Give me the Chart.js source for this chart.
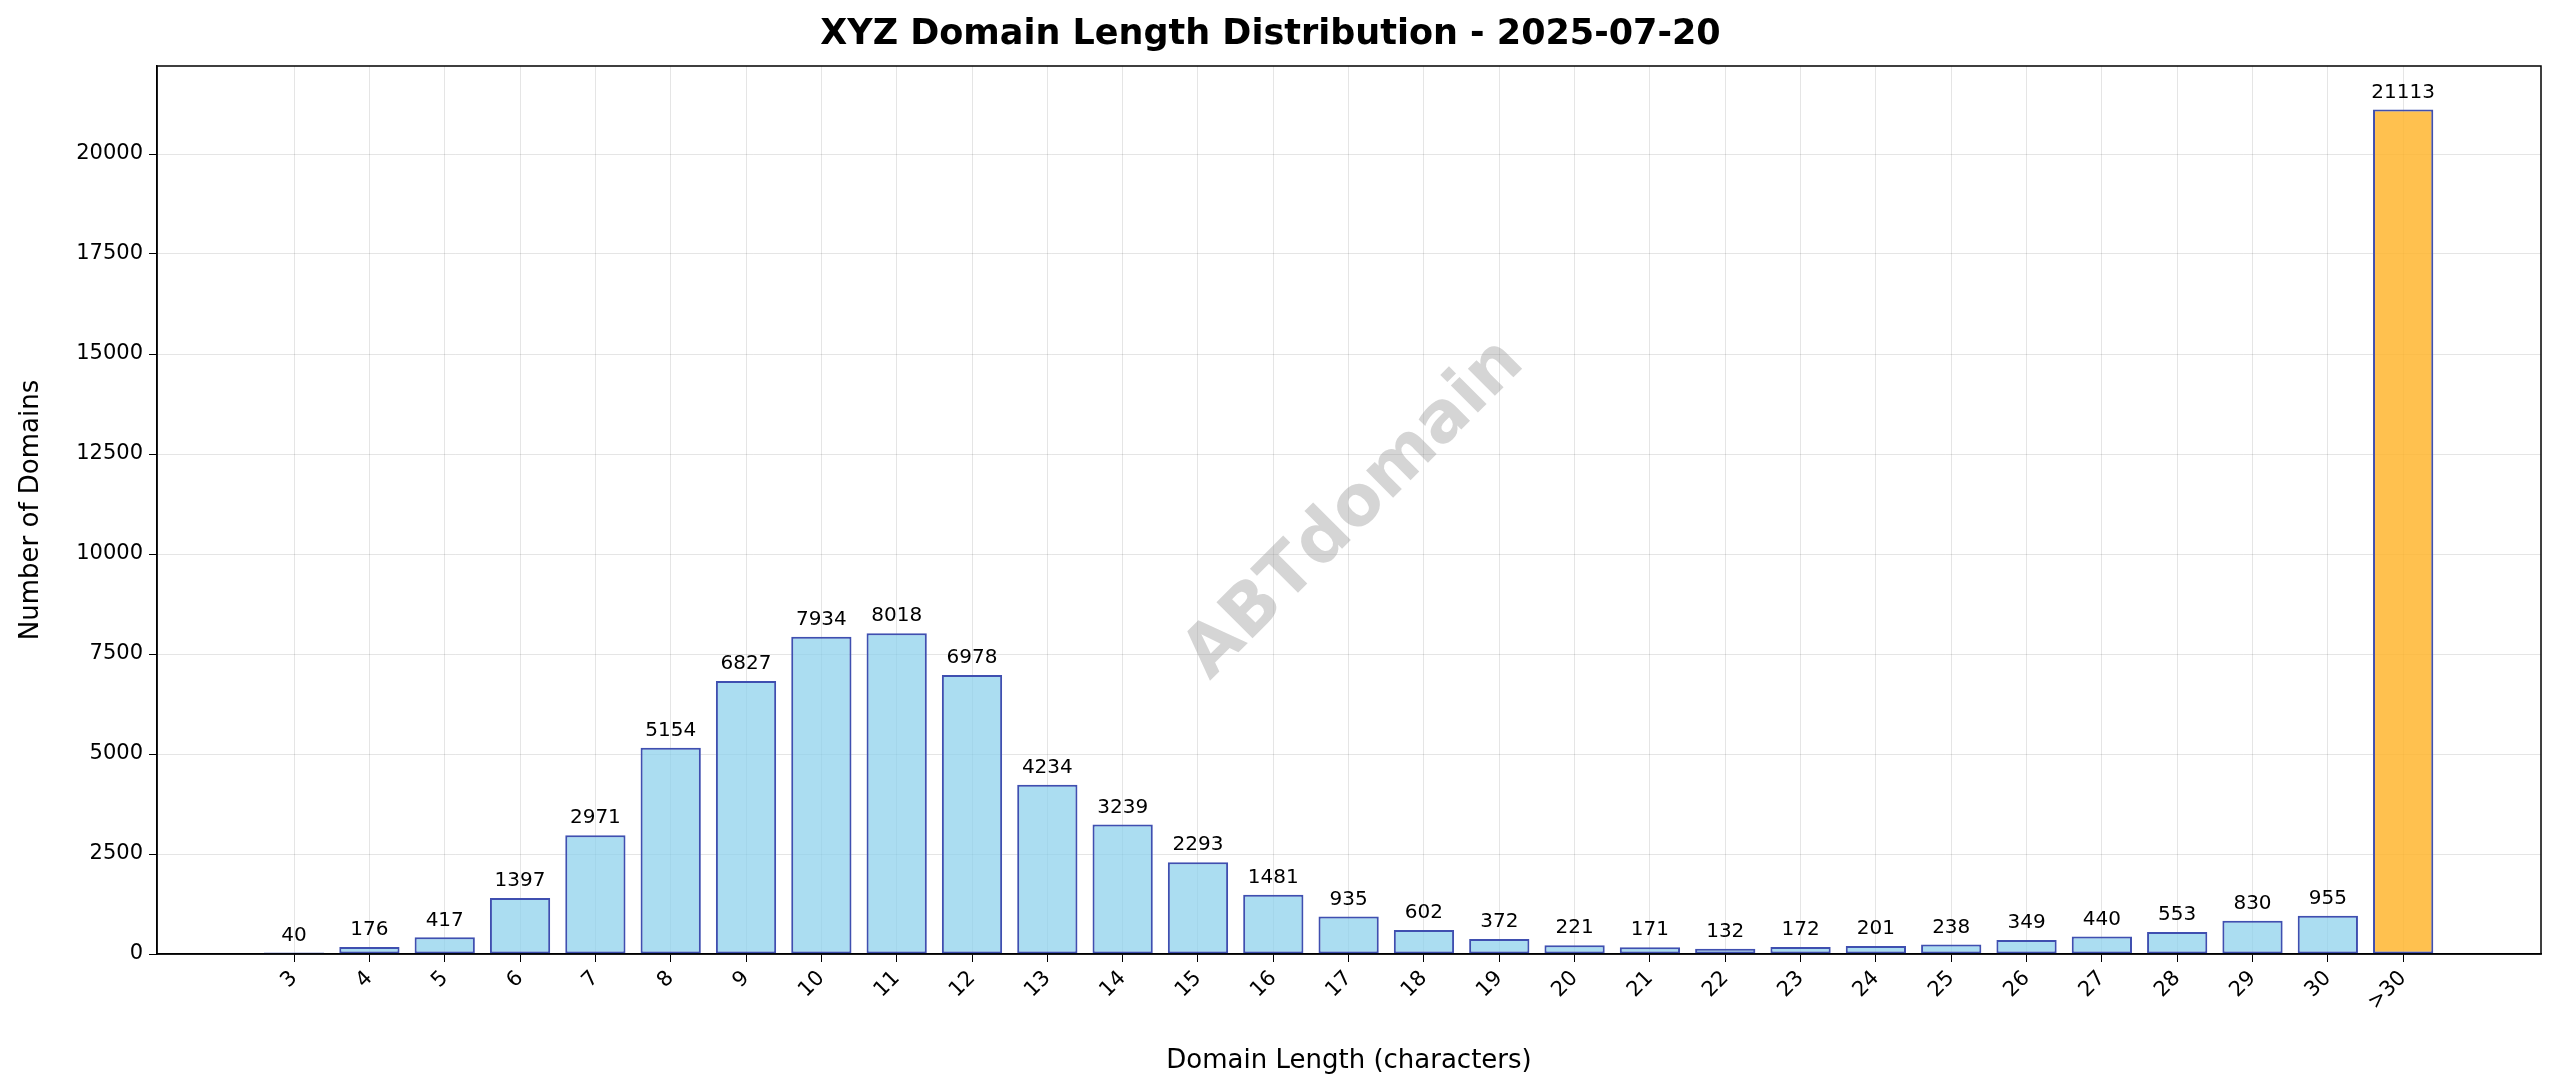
<!DOCTYPE html>
<html>
<head>
<meta charset="utf-8">
<script src="https://cdn.jsdelivr.net/npm/chart.js@4.4.0/dist/chart.umd.min.js"></script>
<style>
  html, body { margin: 0; padding: 0; background: #fff; }
  #wrap { width: 2560px; height: 1087px; }
</style>
</head>
<body>
<div id="wrap"><canvas id="chart"></canvas></div>
<script>
// Domain lengths (31 stands for ">30")
const lengths = [3,4,5,6,7,8,9,10,11,12,13,14,15,16,17,18,19,20,21,22,23,24,25,26,27,28,29,30,31];
const counts = [40,176,417,1397,2971,5154,6827,7934,8018,6978,4234,3239,2293,1481,935,602,372,221,171,132,172,201,238,349,440,553,830,955,21113];
const yTicks = [0,2500,5000,7500,10000,12500,15000,17500,20000];

const fillColors = lengths.map(l => l === 31 ? 'rgba(255,179,40,0.82)' : 'rgba(135,206,235,0.7)');

// Value labels on top of the bars
const valueLabels = {
  id: 'valueLabels',
  afterDatasetsDraw(chart) {
    const ctx = chart.ctx;
    const meta = chart.getDatasetMeta(0);
    ctx.save();
    ctx.fillStyle = '#000';
    ctx.font = '20px "DejaVu Sans"';
    ctx.textAlign = 'center';
    ctx.textBaseline = 'bottom';
    meta.data.forEach((bar, i) => {
      ctx.fillText(String(counts[i]), bar.x, bar.y - 7);
    });
    ctx.restore();
  }
};

// Watermark and full frame
const watermark = {
  id: 'watermark',
  beforeDatasetsDraw(chart) {
    const ctx = chart.ctx;
    ctx.save();
    ctx.translate(1355, 510);
    ctx.rotate(-Math.PI / 4);
    ctx.fillStyle = 'rgba(150,150,150,0.4)';
    ctx.font = 'bold 70px "DejaVu Sans"';
    ctx.textAlign = 'center';
    ctx.textBaseline = 'middle';
    ctx.fillText('ABTdomain', 0, 0);
    ctx.restore();
  },
  afterDraw(chart) {
    const a = chart.chartArea;
    const ctx = chart.ctx;
    ctx.save();
    ctx.strokeStyle = '#000';
    ctx.lineWidth = 1.5;
    ctx.strokeRect(a.left, a.top, a.right - a.left, a.bottom - a.top);
    ctx.restore();
  }
};

new Chart(document.getElementById('chart'), {
  type: 'bar',
  data: {
    datasets: [{
      data: lengths.map((l, i) => ({ x: l, y: counts[i] })),
      backgroundColor: fillColors,
      borderColor: '#3f4fb0',
      borderWidth: 2,
      borderSkipped: false,
      barPercentage: 1,
      categoryPercentage: 0.8
    }]
  },
  options: {
    responsive: true,
    maintainAspectRatio: false,
    animation: false,
    layout: { padding: { left: 0, right: 19, top: 0, bottom: 0 } },
    plugins: {
      legend: { display: false },
      tooltip: { enabled: false },
      title: {
        display: true,
        text: 'XYZ Domain Length Distribution - 2025-07-20',
        color: '#000',
        font: { family: 'DejaVu Sans', size: 35, weight: 'bold' },
        padding: { top: 14, bottom: 10 }
      }
    },
    scales: {
      x: {
        type: 'linear',
        offset: false,
        min: 1.18,
        max: 32.83,
        afterBuildTicks: axis => { axis.ticks = lengths.map(v => ({ value: v })); },
        afterFit: axis => { axis.height = 133; },
        ticks: {
          color: '#000',
          font: { family: 'DejaVu Sans', size: 21 },
          maxRotation: 45,
          minRotation: 45,
          autoSkip: false,
          padding: 4,
          callback: v => v === 31 ? '>30' : String(v)
        },
        grid: { offset: false, color: 'rgba(0,0,0,0.1)', tickLength: 8, tickColor: '#000' },
        border: { color: '#000', width: 1.5 },
        title: {
          display: true,
          text: 'Domain Length (characters)',
          color: '#000',
          font: { family: 'DejaVu Sans', size: 26 },
          padding: { top: 10, bottom: 10 }
        }
      },
      y: {
        min: 0,
        max: 22200,
        afterBuildTicks: axis => { axis.ticks = yTicks.map(v => ({ value: v })); },
        afterFit: axis => { axis.width = 157; },
        ticks: {
          color: '#000',
          font: { family: 'DejaVu Sans', size: 21 },
          padding: 6,
          callback: v => String(v)
        },
        grid: { color: 'rgba(0,0,0,0.1)', tickLength: 8, tickColor: '#000' },
        border: { color: '#000', width: 1.5 },
        title: {
          display: true,
          text: 'Number of Domains',
          color: '#000',
          font: { family: 'DejaVu Sans', size: 26 },
          padding: { top: 16, bottom: 4 }
        }
      }
    }
  },
  plugins: [watermark, valueLabels]
});
</script>
</body>
</html>
